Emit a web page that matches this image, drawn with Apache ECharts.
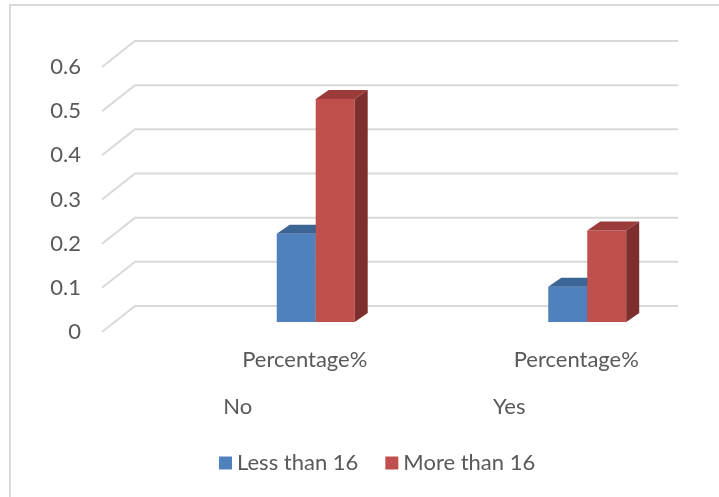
<!DOCTYPE html>
<html lang="en">
<head>
    <meta charset="UTF-8">
    <title>Percentage chart</title>
    <script src="https://cdn.jsdelivr.net/npm/echarts@6/dist/echarts.min.js"></script>
    <style>
        html, body { margin: 0; padding: 0; background: #fff; }
        #chart { width: 719px; height: 497px; }
    </style>
</head>
<body>
    <div id="chart"></div>
<script>
    // data
    var groups = ['No', 'Yes'];
    var subLabel = 'Percentage%';
    var lessThan16 = [0.2, 0.08];
    var moreThan16 = [0.505, 0.207];
    var yTicks = [0, 0.1, 0.2, 0.3, 0.4, 0.5, 0.6];

    var txt = '#595959';
    var font = 'Lato';

    // depth of the back wall and of the bars (oblique 3d look)
    var wallDx = 33, wallDy = -26;
    var barShift = -10, barDx = 13, barDy = -9;

    var chart = echarts.init(document.getElementById('chart'));

    function wallItem(params, api) {
        var cs = params.coordSys;
        var y = api.coord([0, api.value(0)])[1];
        var x0 = cs.x;
        return {
            type: 'polyline',
            shape: { points: [[x0, y], [x0 + wallDx, y + wallDy], [x0 + wallDx + cs.width, y + wallDy]] },
            style: { stroke: '#d9d9d9', lineWidth: 2, fill: null },
            silent: true
        };
    }

    function barRenderer(slot, front, top, side) {
        return function (params, api) {
            var i = api.value(0);
            var v = api.value(1);
            var c = api.coord([i, v]);
            var base = api.coord([i, 0]);
            var bw = api.size([1, 0])[0] * 0.1436;
            var x1 = c[0] + bw * slot, x2 = x1 + bw;
            var yt = c[1] + barShift, yb = base[1] + barShift;
            return {
                type: 'group',
                children: [
                    { type: 'rect', shape: { x: x1, y: yt, width: bw, height: yb - yt }, style: { fill: front } },
                    { type: 'polygon', shape: { points: [[x1, yt], [x2, yt], [x2 + barDx, yt + barDy], [x1 + barDx, yt + barDy]] }, style: { fill: top } },
                    { type: 'polygon', shape: { points: [[x2, yt], [x2, yb], [x2 + barDx, yb + barDy], [x2 + barDx, yt + barDy]] }, style: { fill: side } }
                ]
            };
        };
    }

    chart.setOption({
        animation: false,
        backgroundColor: '#fff',
        graphic: [{
            type: 'rect',
            shape: { x: 10, y: 5, width: 720, height: 500 },
            style: { fill: null, stroke: '#d9d9d9', lineWidth: 2 },
            silent: true
        }],
        grid: { left: 102, right: 74, top: 67, bottom: 165 },
        legend: {
            left: 214, top: 447,
            itemWidth: 13, itemHeight: 13, itemGap: 27,
            icon: 'rect',
            textStyle: { color: txt, fontFamily: font, fontSize: 22 },
            data: ['Less than 16', 'More than 16']
        },
        xAxis: [{
            type: 'category',
            data: groups,
            axisLine: { show: false },
            axisTick: { show: false },
            axisLabel: { color: txt, fontFamily: font, fontSize: 22, margin: 64 }
        }, {
            type: 'category',
            position: 'bottom',
            data: groups.map(function () { return subLabel; }),
            axisLine: { show: false },
            axisTick: { show: false },
            axisLabel: { color: txt, fontFamily: font, fontSize: 22, margin: 17, padding: [0, 0, 0, 134] }
        }],
        yAxis: {
            type: 'value',
            min: 0, max: 0.6, interval: 0.1,
            axisLine: { show: false },
            axisTick: { show: false },
            splitLine: { show: false },
            axisLabel: { color: txt, fontFamily: font, fontSize: 22, margin: 21, padding: [3, 0, 0, 0] }
        },
        series: [{
            type: 'custom',
            name: 'walls',
            z: 1,
            silent: true,
            renderItem: wallItem,
            data: yTicks.map(function (t) { return [t]; }),
            encode: { y: 0 }
        }, {
            type: 'custom',
            name: 'Less than 16',
            z: 2,
            itemStyle: { color: '#4f81bd' },
            renderItem: barRenderer(1, '#4f81bd', '#3b6594', '#34597f'),
            data: lessThan16.map(function (v, i) { return [i, v]; }),
            encode: { x: 0, y: 1 }
        }, {
            type: 'custom',
            name: 'More than 16',
            z: 3,
            itemStyle: { color: '#c0504d' },
            renderItem: barRenderer(2, '#c0504d', '#9c3c3a', '#7d2f2d'),
            data: moreThan16.map(function (v, i) { return [i, v]; }),
            encode: { x: 0, y: 1 }
        }]
    });
</script>
</body>
</html>
